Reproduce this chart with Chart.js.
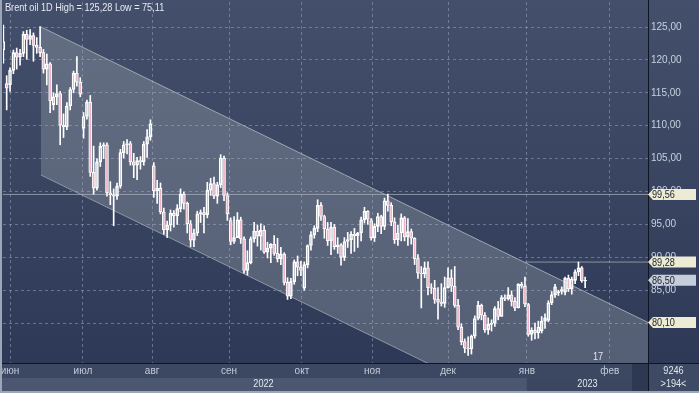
<!DOCTYPE html>
<html>
<head>
<meta charset="utf-8">
<script src="https://cdn.jsdelivr.net/npm/chart.js@4.4.1/dist/chart.umd.min.js"></script>
<style>
  html, body { margin: 0; padding: 0; background: #2f3b56; }
  #wrap { width: 699px; height: 393px; }
</style>
</head>
<body>
<div id="wrap"><canvas id="chart" width="699" height="393"></canvas></div>
<script>
// Brent daily bars, one per weekday, 30 May 2022 (index 0) .. 27 Jan 2023 (index 174)
const open = [
  121.5,116.4,116.2,118.4,121.1,120.4,121.0,123.9,123.1,123.7,
  122.2,121.9,121.1,118.6,119.4,113.2,114.4,114.9,110.1,109.8,
  113.0,115.5,118.0,116.6,109.6,111.4,113.6,102.9,100.5,104.5,
  106.9,107.1,99.8,99.5,99.3,100.8,105.9,107.1,107.3,104.5,
  104.0,104.7,104.5,107.2,108.3,103.9,100.1,100.5,96.9,94.2,
  94.9,96.7,96.3,97.4,99.6,98.2,95.1,92.6,93.7,96.6,
  96.8,96.5,100.2,101.2,99.3,101.0,105.1,99.4,95.6,92.4,
  93.0,95.7,92.8,88.0,89.2,92.8,94.0,93.2,94.1,90.8,
  91.4,92.0,90.6,89.8,90.5,86.2,84.1,86.3,89.3,88.5,
  85.3,88.9,91.8,93.4,94.4,97.9,96.2,94.3,92.5,94.6,
  91.6,91.9,90.0,92.4,92.7,93.5,93.3,93.7,95.7,97.0,
  95.6,93.0,94.7,96.2,94.7,98.6,97.9,95.4,92.7,93.7,
  96.0,93.1,93.9,92.9,89.8,87.6,87.5,88.4,85.4,85.3,
  83.6,83.2,83.0,85.4,86.9,85.6,82.7,79.4,77.2,76.2,
  76.1,78.0,80.7,82.7,81.2,79.0,79.8,80.0,82.2,81.0,
  83.9,83.7,84.3,83.3,82.3,85.9,85.6,82.8,78.3,78.9,
  78.5,78.8,80.3,80.4,83.1,84.3,84.6,84.8,84.7,86.8,
  85.2,86.5,87.8,88.4,86.4
];
const high = [
  125.28,117.6,118.8,121.5,121.8,121.6,124.3,124.5,124.6,124.1,
  123.4,125.05,121.6,120.9,119.6,115.0,116.2,115.2,111.8,113.5,
  115.8,118.3,120.5,117.3,112.0,113.9,114.6,106.9,105.0,107.4,
  107.4,107.4,101.5,100.4,101.3,106.4,107.6,107.9,107.6,105.8,
  105.2,105.3,107.6,109.4,110.9,104.4,101.7,101.3,97.5,95.5,
  97.2,97.1,98.0,100.4,99.9,98.4,95.6,94.3,97.0,97.2,
  97.6,101.4,102.0,102.2,101.4,105.6,105.4,99.8,96.0,96.2,
  96.8,96.1,93.1,91.0,93.1,95.3,94.9,95.1,94.8,92.3,
  92.1,93.3,92.9,91.5,90.7,86.9,86.8,89.6,90.2,89.4,
  89.3,91.9,93.9,94.8,98.75,98.3,96.4,95.3,95.3,95.0,
  93.0,92.1,93.0,93.8,93.9,94.4,93.8,96.1,97.6,97.1,
  95.9,95.1,96.7,96.4,99.0,99.6,98.3,96.0,94.9,96.6,
  96.2,95.9,94.3,93.0,90.4,88.6,89.3,89.3,86.0,86.5,
  85.4,86.0,87.0,88.4,88.1,88.6,83.6,79.9,77.6,77.9,
  78.2,81.1,83.3,82.9,81.6,80.8,80.5,82.5,83.3,84.2,
  84.3,85.4,84.9,83.9,86.0,86.2,87.0,83.0,79.3,80.0,
  80.3,81.0,81.4,83.4,84.8,85.9,85.0,85.5,87.0,87.3,
  87.0,88.1,89.28,88.6,87.0
];
const low = [
  119.5,112.4,115.2,117.9,118.6,119.2,120.5,120.1,122.3,119.8,
  121.0,120.5,118.0,116.2,112.0,112.4,113.2,107.1,108.2,109.4,
  112.4,115.0,116.0,114.4,108.1,111.0,102.3,99.6,100.2,103.8,
  105.0,99.3,98.0,94.8,98.8,100.5,105.1,105.7,104.0,102.1,
  101.8,103.4,104.0,105.2,107.8,99.1,98.2,96.6,93.5,93.0,
  94.0,94.6,95.0,96.9,97.3,93.7,91.6,91.6,93.3,95.3,
  93.7,96.0,99.4,98.9,98.2,100.6,98.6,95.6,91.9,92.1,
  93.0,92.1,87.6,87.3,89.0,92.3,91.7,91.1,90.6,89.9,
  89.2,90.3,89.3,88.9,85.8,83.6,83.7,85.9,87.2,87.2,
  85.0,88.4,91.1,92.9,93.9,95.6,92.9,91.8,90.4,91.2,
  90.6,88.8,89.5,91.5,90.6,90.9,91.5,92.5,95.2,95.0,
  92.6,92.4,93.9,93.6,94.2,97.0,94.8,92.1,91.8,92.5,
  92.5,91.8,92.0,88.9,86.8,82.3,86.9,84.3,84.5,83.0,
  80.6,82.6,82.4,85.3,84.8,82.4,79.0,76.7,75.5,75.11,
  75.3,77.7,80.5,80.5,78.6,78.3,78.8,79.5,80.5,81.0,
  83.4,83.5,82.6,81.9,82.3,85.3,82.5,78.0,77.4,77.6,
  77.7,78.5,79.2,80.2,82.8,83.9,84.2,84.4,84.3,84.8,
  84.4,86.0,87.2,86.2,85.4
];
const close = [
  122.8,115.7,118.4,121.1,120.4,121.0,123.9,123.1,123.7,122.2,
  121.9,121.1,118.6,119.4,113.8,114.4,114.9,110.1,109.8,113.0,
  115.5,118.0,116.6,114.8,111.4,113.6,102.9,100.5,104.5,106.9,
  107.1,99.8,99.5,99.3,100.8,105.9,107.1,107.3,104.5,104.0,
  104.7,104.5,107.2,108.3,110.3,100.1,100.5,96.9,94.2,94.9,
  96.7,96.3,97.4,99.6,98.2,95.1,92.6,93.7,96.6,96.8,
  96.5,100.2,101.2,99.3,101.0,105.1,99.4,96.6,92.4,93.0,
  95.7,92.8,88.0,89.2,92.8,94.0,93.2,94.1,90.8,91.4,
  92.0,90.6,89.8,90.5,86.2,84.1,86.3,89.3,88.5,88.0,
  88.9,91.8,93.4,94.4,97.9,96.2,94.3,92.5,94.6,91.6,
  91.9,90.0,92.4,92.7,93.5,93.3,93.7,95.7,97.0,95.8,
  93.0,94.7,96.2,94.7,98.6,97.9,95.4,92.7,93.7,96.0,
  93.1,93.9,92.9,89.8,87.6,87.5,88.4,85.4,85.3,83.6,
  83.2,83.0,85.4,86.9,85.6,82.7,79.4,77.2,76.2,76.1,
  78.0,80.7,82.7,81.2,79.0,79.8,80.0,82.2,81.0,83.9,
  83.7,84.3,83.3,82.3,85.9,85.6,82.9,78.3,78.9,78.5,
  79.4,80.3,80.8,83.1,84.3,85.5,84.8,85.1,86.8,85.2,
  86.7,87.8,88.4,86.4,86.5
];

// axis labels (month ticks sit at bar-index positions)
const monthNames = ["июн", "июл", "авг", "сен", "окт", "ноя", "дек", "янв", "фев"];
const monthPos = [2.0, 23.8, 44.5, 67.5, 89.3, 110.3, 133.0, 156.6, 181.4];
const yearNames = ["2022", "2023"];
const priceTicks = [80, 85, 90, 95, 100, 105, 110, 115, 120, 125];

// descending channel and horizontal levels
const channelX = [11.27, 192.8];
const channelUpper = [125.0, 80.10];
const channelLower = [102.5, 57.6];
const levelA = 99.56;
const levelB = 89.28;
const levelBStart = 156.0;
const lastPrice = 86.50;

const X_MIN = -0.1, X_MAX = 192.8;
const FONT = '"Liberation Sans", Arial, sans-serif';

const fmt = v => v.toFixed(2).replace('.', ',');

const wickLo = open.map((o, i) => ({ x: i, y: [low[i], Math.min(o, close[i])] }));
const wickHi = open.map((o, i) => ({ x: i, y: [Math.max(o, close[i]), high[i]] }));
const bodies = open.map((o, i) => ({ x: i, y: [o, close[i]] }));
const bodyFill = open.map((o, i) => close[i] >= o ? 'rgba(0,0,0,0)' : '#efb5c7');

// the terminal font is a narrow one, squeeze regular text a little
function narrowText(ctx, text, x, y, align) {
    ctx.save();
    ctx.translate(x, y);
    ctx.scale(0.83, 1);
    ctx.textAlign = align;
    ctx.fillText(text, 0, 0);
    ctx.restore();
}

const backdrop = {
    id: 'backdrop',
    beforeDraw(chart) {
        const { ctx, chartArea: ca, width, height } = chart;
        const xs = chart.scales.x;
        ctx.save();
        const g = ctx.createLinearGradient(0, 0, 0, height);
        g.addColorStop(0, '#44506b');
        g.addColorStop(1, '#2b3754');
        ctx.fillStyle = g;
        ctx.fillRect(0, 0, width, height);

        // month row + year row under the plot
        const janPx = xs.getPixelForValue(monthPos[7]);
        ctx.fillStyle = '#3c4862';
        ctx.fillRect(0, ca.bottom, ca.right, 15);
        ctx.fillStyle = '#4b5770';
        ctx.fillRect(0, ca.bottom + 15, janPx, 13);
        ctx.fillStyle = '#3b4761';
        ctx.fillRect(janPx, ca.bottom + 15, ca.right - 16 - janPx, 13);
        ctx.fillStyle = '#2e3951';
        ctx.fillRect(ca.right - 16, ca.bottom, 16, 28);
        ctx.fillStyle = '#3e4a63';
        ctx.fillRect(ca.right, ca.bottom, width - ca.right, height - ca.bottom);
        ctx.restore();
    }
};

function drawTag(ctx, x, y, text, bg) {
    const h = 11, w = 48;
    ctx.beginPath();
    ctx.moveTo(x, y);
    ctx.lineTo(x + 5, y - h / 2);
    ctx.lineTo(x + w, y - h / 2);
    ctx.lineTo(x + w, y + h / 2);
    ctx.lineTo(x + 5, y + h / 2);
    ctx.closePath();
    ctx.fillStyle = bg;
    ctx.fill();
    ctx.fillStyle = '#1c2029';
    ctx.textBaseline = 'middle';
    narrowText(ctx, text, x + 4, y + 0.5, 'left');
}

const overlay = {
    id: 'overlay',
    afterDraw(chart) {
        const { ctx, chartArea: ca, width, height } = chart;
        const xs = chart.scales.x, ys = chart.scales.y;
        ctx.save();

        // frame lines
        ctx.fillStyle = '#0f1522';
        ctx.fillRect(ca.right, 0, 1, height);
        ctx.fillRect(0, ca.bottom, width, 1);
        ctx.fillStyle = '#9ca6b6';
        ctx.fillRect(0, 0, 2, height);
        ctx.fillRect(0, height - 2, width, 2);

        ctx.font = '11px ' + FONT;
        ctx.textBaseline = 'middle';

        // title
        ctx.fillStyle = '#e6eaf2';
        narrowText(ctx, 'Brent oil 1D High = 125,28 Low = 75,11', 5, 8, 'left');

        // price tags on the right axis
        drawTag(ctx, ca.right, ys.getPixelForValue(levelA), fmt(levelA), '#ecebd3');
        drawTag(ctx, ca.right, ys.getPixelForValue(levelB), fmt(levelB), '#ecebd3');
        drawTag(ctx, ca.right, ys.getPixelForValue(lastPrice), fmt(lastPrice), '#c7cedb');
        drawTag(ctx, ca.right, ys.getPixelForValue(channelUpper[1]), fmt(channelUpper[1]), '#ecebd3');

        // years
        const janPx = xs.getPixelForValue(monthPos[7]);
        ctx.fillStyle = '#e2e6ee';
        narrowText(ctx, yearNames[0], janPx / 2, ca.bottom + 21, 'center');
        narrowText(ctx, yearNames[1], (janPx + ca.right) / 2, ca.bottom + 21, 'center');

        // small labels
        narrowText(ctx, '17', 598, ca.bottom - 6, 'center');
        narrowText(ctx, '9246', (ca.right + width) / 2, ca.bottom + 8, 'center');
        narrowText(ctx, '>194<', (ca.right + width) / 2, ca.bottom + 21, 'center');
        ctx.restore();
    }
};

new Chart(document.getElementById('chart'), {
    type: 'bar',
    data: {
        datasets: [
            {
                type: 'line',
                data: channelX.map((x, i) => ({ x: x, y: channelUpper[i] })),
                borderColor: '#9da4b2',
                borderWidth: 1,
                pointRadius: 0,
                fill: false,
                order: 10
            },
            {
                type: 'line',
                data: channelX.map((x, i) => ({ x: x, y: channelLower[i] })),
                borderColor: '#8f96a4',
                borderWidth: 1,
                pointRadius: 0,
                fill: '-1',
                backgroundColor: 'rgba(176, 181, 190, 0.30)',
                order: 9
            },
            {
                type: 'line',
                data: [{ x: X_MIN, y: levelA }, { x: X_MAX, y: levelA }],
                borderColor: 'rgba(170, 176, 188, 0.75)',
                borderWidth: 1,
                pointRadius: 0,
                order: 5
            },
            {
                type: 'line',
                data: [{ x: levelBStart, y: levelB }, { x: X_MAX, y: levelB }],
                borderColor: 'rgba(170, 176, 188, 0.75)',
                borderWidth: 1,
                pointRadius: 0,
                order: 5
            },
            {
                data: wickLo,
                backgroundColor: '#ffffff',
                borderWidth: 0,
                barThickness: 1,
                grouped: false,
                order: 2
            },
            {
                data: wickHi,
                backgroundColor: '#ffffff',
                borderWidth: 0,
                barThickness: 1,
                grouped: false,
                order: 2
            },
            {
                data: bodies,
                backgroundColor: bodyFill,
                borderColor: '#ffffff',
                borderWidth: 1,
                borderSkipped: false,
                barThickness: 3,
                grouped: false,
                order: 1
            }
        ]
    },
    options: {
        responsive: false,
        animation: false,
        layout: { padding: { left: 3, top: 2, right: 0, bottom: 0 } },
        plugins: {
            legend: { display: false },
            tooltip: { enabled: false }
        },
        scales: {
            x: {
                type: 'linear',
                min: X_MIN,
                max: X_MAX,
                offset: false,
                afterFit: s => { s.height = 30; s.paddingLeft = 0; s.paddingRight = 0; },
                afterBuildTicks: s => { s.ticks = monthPos.map(v => ({ value: v })); },
                grid: { color: 'rgba(150, 162, 190, 0.55)', drawTicks: false, offset: false },
                border: { display: false, dash: [3, 3] },
                ticks: {
                    autoSkip: false,
                    maxRotation: 0,
                    padding: 2,
                    color: '#c3cbda',
                    font: { family: FONT, size: 10 },
                    callback: (v, i) => monthNames[i]
                }
            },
            y: {
                position: 'right',
                min: 73.94,
                max: 128.8,
                afterFit: s => { s.width = 51; s.paddingTop = 0; s.paddingBottom = 0; },
                afterBuildTicks: s => { s.ticks = priceTicks.map(v => ({ value: v })); },
                grid: { color: 'rgba(150, 162, 190, 0.55)', drawTicks: false },
                border: { display: false, dash: [3, 3] },
                ticks: {
                    padding: 3,
                    color: '#c8d0de',
                    font: { family: FONT, size: 10 },
                    callback: v => fmt(v)
                }
            }
        }
    },
    plugins: [backdrop, overlay]
});
</script>
</body>
</html>
